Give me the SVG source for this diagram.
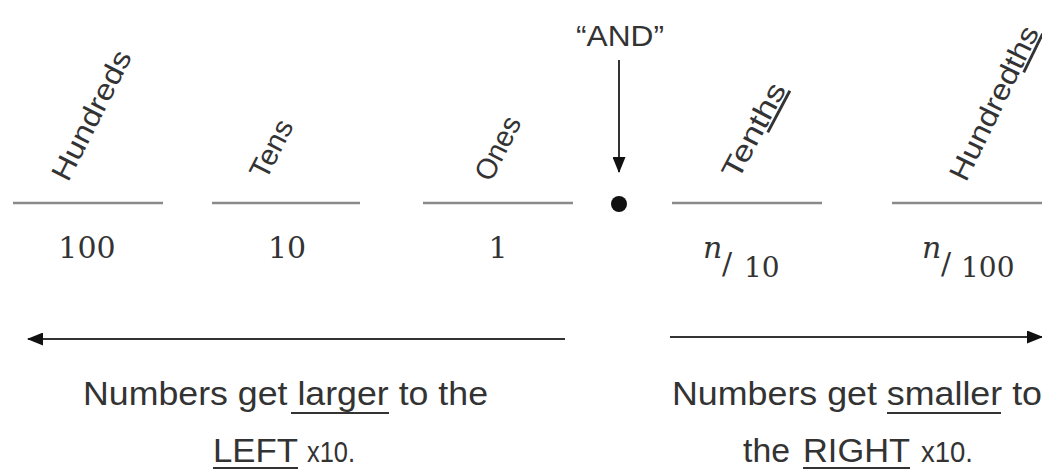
<svg xmlns="http://www.w3.org/2000/svg" width="1042" height="472" viewBox="0 0 1042 472">
<defs>
<style>
.hand{font-family:"Liberation Sans",Arial,sans-serif;fill:#333;}
.lbl{font-size:29px;}
.num{font-family:"DejaVu Serif","Liberation Serif",serif;font-size:30px;fill:#333;}
.den{font-size:28px;}
.it{font-style:italic;}
.slot{stroke:#8a8a8a;stroke-width:2.5;fill:none;}
.conn{stroke:#333;stroke-width:2;fill:none;}
.ul{stroke:#333;stroke-width:2;}
.big{font-size:33px;}
.sm{font-size:30px;}
</style>
<marker id="ah" viewBox="0 0 16 13" refX="15" refY="6.5" markerWidth="16" markerHeight="13" markerUnits="userSpaceOnUse" orient="auto">
<path d="M0,0 L16,6.5 L0,13 Z" fill="#111"/>
</marker>
</defs>
<rect width="1042" height="472" fill="#fff"/>

<g id="hundreds">
<line class="slot" x1="13" y1="203" x2="163" y2="203"/>
<text class="hand lbl" transform="translate(68,183) rotate(-63)" textLength="142" lengthAdjust="spacingAndGlyphs">Hundreds</text>
<text class="num" x="87" y="258" text-anchor="middle">100</text>
</g>

<g id="tens">
<line class="slot" x1="212" y1="203" x2="360" y2="203"/>
<text class="hand lbl" transform="translate(266,181) rotate(-63)" textLength="62" lengthAdjust="spacingAndGlyphs">Tens</text>
<text class="num" x="287" y="258" text-anchor="middle">10</text>
</g>

<g id="ones">
<line class="slot" x1="423" y1="203" x2="573" y2="203"/>
<text class="hand lbl" transform="translate(491,183) rotate(-63)" textLength="68" lengthAdjust="spacingAndGlyphs">Ones</text>
<text class="num" x="498" y="258" text-anchor="middle">1</text>
</g>

<g id="decimal-point">
<circle cx="619" cy="204" r="8" fill="#111"/>
<text class="hand" x="620" y="46" font-size="30" text-anchor="middle" textLength="88" lengthAdjust="spacingAndGlyphs">“AND”</text>
</g>

<g id="tenths">
<line class="slot" x1="672" y1="203" x2="822" y2="203"/>
<text class="hand lbl" transform="translate(738,181) rotate(-62)" textLength="104" lengthAdjust="spacingAndGlyphs">Ten<tspan text-decoration="underline">ths</tspan></text>
<text class="num it" x="703" y="258">n</text>
<text class="num" x="722" y="274" font-size="37">/</text>
<text class="num den" x="744" y="277">10</text>
</g>

<g id="hundredths">
<line class="slot" x1="892" y1="203" x2="1042" y2="203"/>
<text class="hand lbl" transform="translate(966,183) rotate(-64)" textLength="168" lengthAdjust="spacingAndGlyphs">Hundred<tspan text-decoration="underline">ths</tspan></text>
<text class="num it" x="922" y="258">n</text>
<text class="num" x="941" y="274" font-size="37">/</text>
<text class="num den" x="961" y="277">100</text>
</g>

<g id="connectors">
<line class="conn" x1="619" y1="60" x2="619" y2="172" marker-end="url(#ah)"/>
<line class="conn" x1="565" y1="339" x2="28" y2="339" marker-end="url(#ah)"/>
<line class="conn" x1="670" y1="337" x2="1042" y2="337" marker-end="url(#ah)"/>
</g>

<g id="left-caption">
<text class="hand big" x="83" y="405" textLength="405" lengthAdjust="spacingAndGlyphs">Numbers get larger to the</text>
<line class="ul" x1="291" y1="413" x2="389" y2="413"/>
<text class="hand big" x="213" y="462" textLength="85" lengthAdjust="spacingAndGlyphs">LEFT</text>
<line class="ul" x1="213" y1="468" x2="298" y2="468"/>
<text class="hand sm" x="307" y="462" textLength="48" lengthAdjust="spacingAndGlyphs">x10.</text>
</g>

<g id="right-caption">
<text class="hand big" x="672" y="405" textLength="370" lengthAdjust="spacingAndGlyphs">Numbers get smaller to</text>
<line class="ul" x1="887" y1="413" x2="1001" y2="413"/>
<text class="hand big" x="743" y="462" textLength="47" lengthAdjust="spacingAndGlyphs">the</text>
<text class="hand big" x="803" y="462" textLength="107" lengthAdjust="spacingAndGlyphs">RIGHT</text>
<line class="ul" x1="803" y1="468" x2="910" y2="468"/>
<text class="hand sm" x="921" y="462" textLength="52" lengthAdjust="spacingAndGlyphs">x10.</text>
</g>
</svg>
